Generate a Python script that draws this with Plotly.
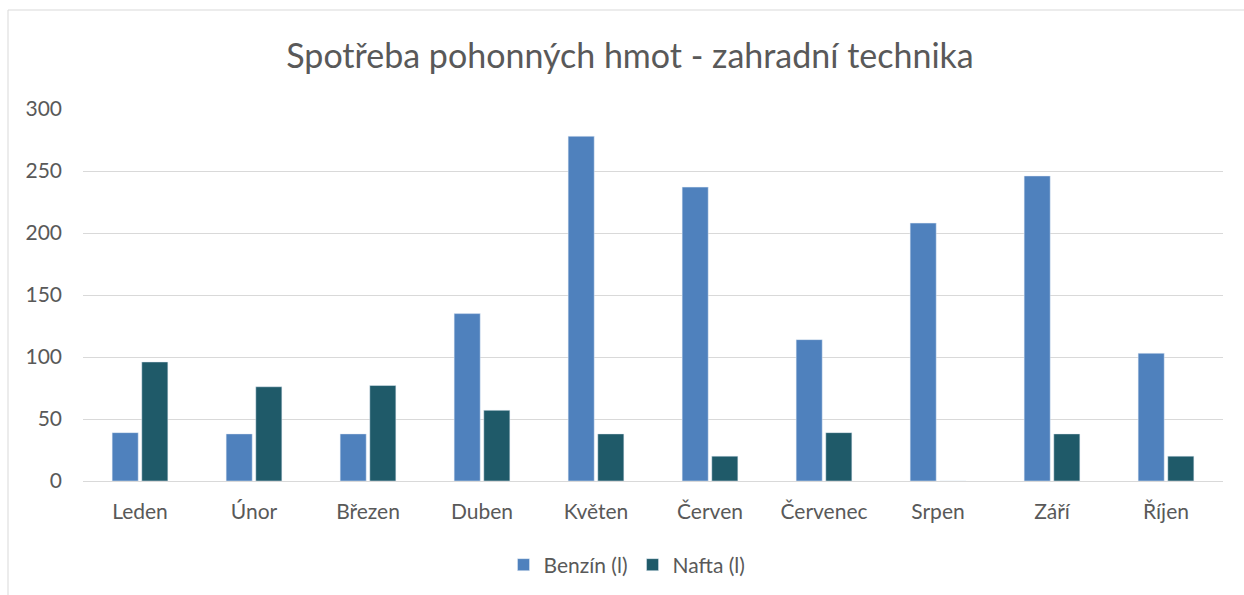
import plotly.graph_objects as go

months = ["Leden", "Únor", "Březen", "Duben", "Květen", "Červen", "Červenec", "Srpen", "Září", "Říjen"]
benzin = [39, 38, 38, 135, 278, 237, 114, 208, 246, 103]
nafta = [96, 76, 77, 57, 38, 20, 39, 0, 38, 20]
y_ticks = [0, 50, 100, 150, 200, 250, 300]

FONT = "Lato"
GRAY = "#595959"

fig = go.Figure()
fig.add_trace(go.Bar(name="Benzín (l)", x=months, y=benzin, marker_color="#4F81BD"))
fig.add_trace(go.Bar(name="Nafta (l)", x=months, y=nafta, marker_color="#1F5A69"))

W, H = 1244, 595
L, R, T, B = 83, 21, 109, 114
pw, ph = W - L - R, H - T - B

fig.update_layout(
    width=W, height=H, autosize=False,
    margin=dict(l=L, r=R, t=T, b=B, autoexpand=False),
    paper_bgcolor="white", plot_bgcolor="white",
    barmode="group", bargap=0.48, bargroupgap=0.12,
    font=dict(family=FONT, color=GRAY),
    title=dict(text="Spotřeba pohonných hmot - zahradní technika",
               x=(630 - L) / pw, xref="paper", xanchor="center", y=1 - 56 / H, yanchor="middle",
               font=dict(size=34, color=GRAY, family=FONT)),
    legend=dict(orientation="h", x=(627 - L) / pw, xanchor="center",
                y=-(565 - 481) / ph, yanchor="middle",
                font=dict(size=21, color=GRAY), itemwidth=30),
    xaxis=dict(showgrid=False, showline=False, tickfont=dict(size=21, color=GRAY),
               ticklabelstandoff=16, automargin=False),
    yaxis=dict(range=[0, 300], tickvals=y_ticks, showgrid=True, gridcolor="#D9D9D9",
               gridwidth=1, zeroline=True, zerolinecolor="#D9D9D9", zerolinewidth=1,
               tickfont=dict(size=21, color=GRAY), ticklabelstandoff=20, automargin=False),
    showlegend=True,
)

fig.add_shape(type="rect", xref="paper", yref="paper",
              x0=(8 - L) / pw, x1=(1300 - L) / pw,
              y0=(481 - 700) / ph, y1=(481 - 10) / ph,
              line=dict(color="#D9D9D9", width=1), fillcolor="rgba(0,0,0,0)", layer="below")

fig.write_html("out.html", config={"displayModeBar": False},
               post_script="document.body.style.margin='0';document.body.style.overflow='hidden';")
